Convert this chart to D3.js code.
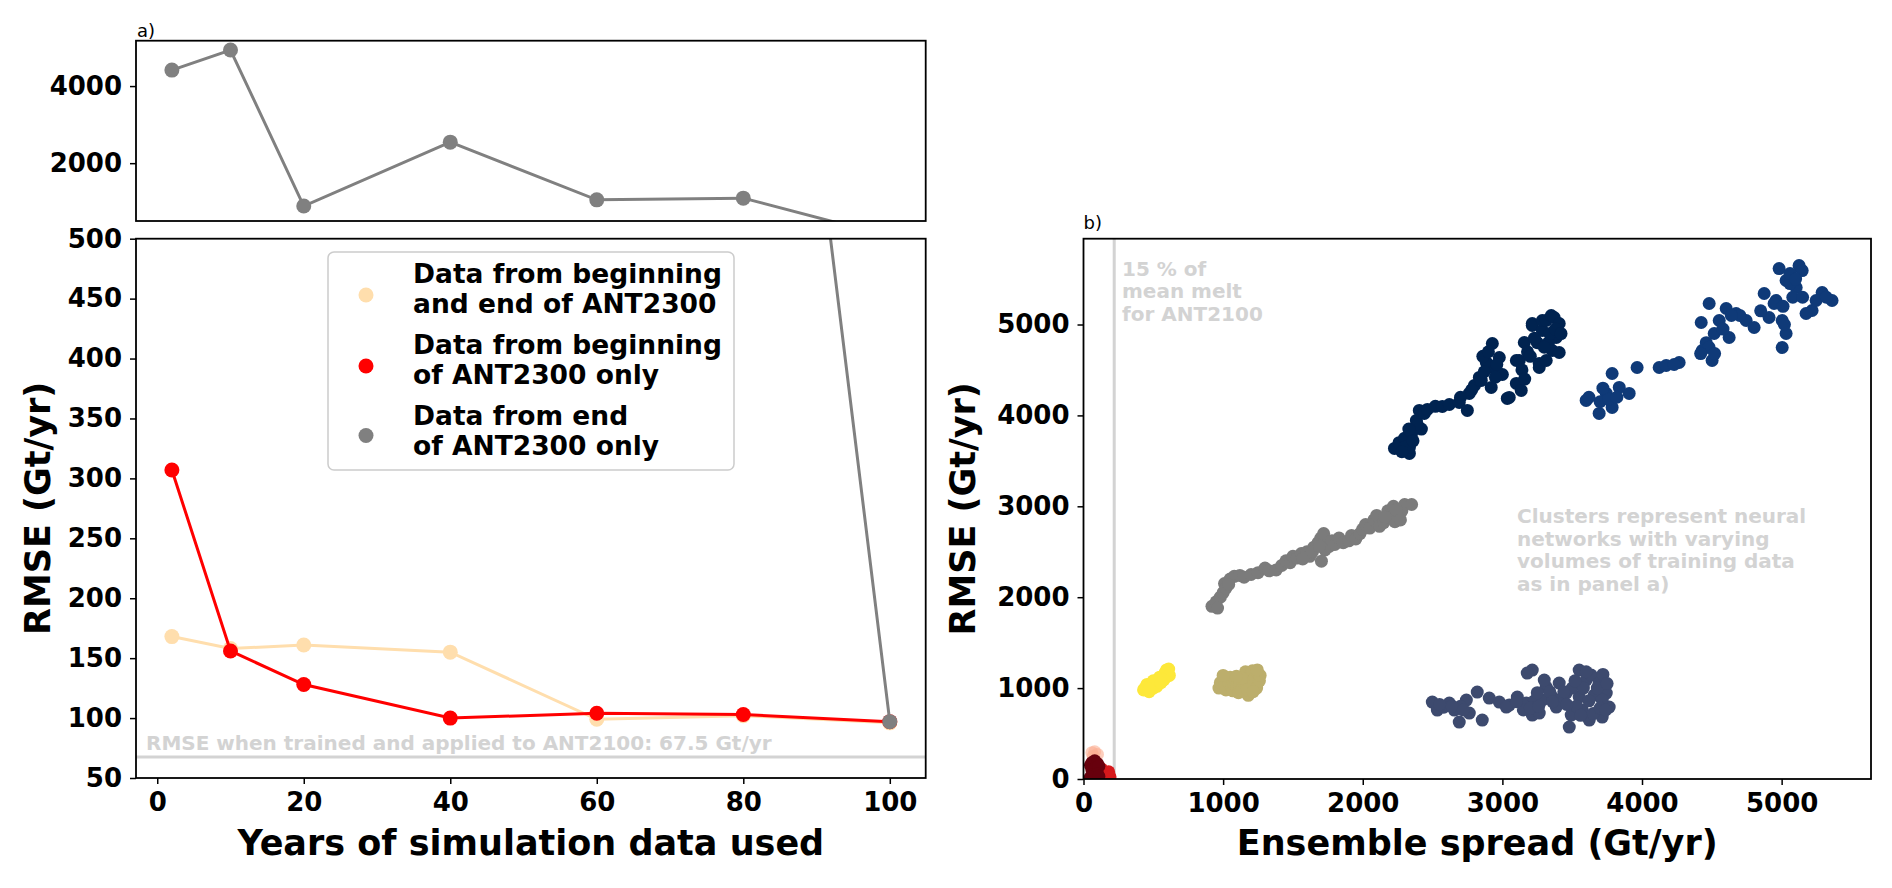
<!DOCTYPE html>
<html>
<head>
<meta charset="utf-8">
<script src="https://cdn.jsdelivr.net/npm/d3@7"></script>
<style>
  body { margin: 0; background: #fff; }
  text { font-family: "DejaVu Sans", sans-serif; }
  .axis text { font-size: 26px; font-weight: bold; fill: #000; font-family: "DejaVu Sans", sans-serif; }
  .axis line { stroke: #000; stroke-width: 1.5; }
</style>
</head>
<body>
<script>
// panel a) values
var years = [2, 10, 20, 40, 60, 80, 100];
var rmseBoth = [168, 158, 161, 155, 99, 102, 96];
var rmseBegin = [307, 156, 128, 100, 104, 103, 97];
var rmseEnd = [4415, 4935, 888, 2545, 1049, 1093, 97];
var seriesNames = [
  ['Data from beginning', 'and end of ANT2300'],
  ['Data from beginning', 'of ANT2300 only'],
  ['Data from end', 'of ANT2300 only']
];
var seriesColors = ['#FFDEAD', '#FF0000', '#808080'];
var yearTicks = [0, 20, 40, 60, 80, 100];
var topTicks = [2000, 4000];
var lowTicks = [50, 100, 150, 200, 250, 300, 350, 400, 450, 500];
var refRmse = 67.5;
var refLabel = 'RMSE when trained and applied to ANT2100: 67.5 Gt/yr';

// panel b) values: [ensemble spread, RMSE] per network
var spreadTicks = [0, 1000, 2000, 3000, 4000, 5000];
var rmseTicks = [0, 1000, 2000, 3000, 4000, 5000];
var meltLimit = 220;
var meltLabel = ['15 % of', 'mean melt', 'for ANT2100'];
var clusterLabel = ['Clusters represent neural', 'networks with varying', 'volumes of training data', 'as in panel a)'];

var cluster2 = [[2227,3637],[2260,3700],[2334,3582],[2300,3750],[2334,3648],[2384,3945],[2405,4055],[2441,4022],
  [2463,4066],[2350,3800],[2420,3850],[2520,4100],[2570,4099],[2620,4120],[2691,4143],[2749,4055],[2763,4242],
  [2800,4330],[2835,4418],[2849,4385],[2885,4582],[2892,4571],[2928,4791],[2978,4637],[2920,4308],[3035,4187],
  [3049,4198],[3100,4352],[3121,4604],[3100,4604],[3135,4275],[3157,4802],[3214,5011],[3214,4989],[3264,4571],
  [3264,4527],[3286,4934],[3286,5044],[3314,4604],[3314,5044],[3350,5099],[3357,4714],[3371,5077],[3386,4857],
  [3407,5011],[3407,4692],[2950,4500],[3000,4450],[3180,4700],[3250,4800],[3330,4800],[2870,4480],[2700,4200],
  [2300,3650],[2280,3600],[2360,3720],[2390,3900],[2330,3850],[2860,4650],[2900,4700],[2960,4560],[3140,4500],
  [3160,4400],[3200,4650],[3340,4900],[3380,4950],[3300,4750],[3230,4850],[3420,4900],[2950,4420],[2780,4280]];
var cluster10 = [[3600,4165],[3620,4200],[3693,4022],[3786,4461],[3837,4308],[3908,4242],[3786,4088],[3744,4242],
  [3700,4150],[3965,4527],[4123,4527],[4173,4549],[4266,4582],[4230,4560],[4424,5022],[4481,5231],[4431,4714],
  [4502,4604],[4517,4901],[4624,4857],[4603,5176],[4674,5121],[4746,5044],[4803,4967],[4875,5341],[4910,5077],
  [4960,5264],[4982,5615],[5032,5484],[5125,5648],[5147,5593],[5104,5407],[5004,5044],[5032,4901],[5004,4747],
  [5218,5154],[5290,5352],[5361,5264],[5175,5121],[5247,5264],[4946,5231],[4553,5044],[4460,4800],[4580,4950],
  [4700,5100],[4850,5150],[5060,5450],[5080,5300],[4480,4750],[5150,5300],[5320,5300],[4420,4680],[3760,4180],
  [3820,4200],[3720,4300],[4520,4680],[4640,5100],[5010,5200],[5060,5560],[5100,5500],[5020,5000]];
var cluster20 = [[2498,846],[2534,758],[2620,835],[2656,758],[2691,626],[2742,868],[2763,725],[2820,956],[2856,648],
  [2906,890],[2978,846],[3049,813],[3107,901],[3171,835],[3214,1198],[3178,1165],[3214,703],[3264,725],[3314,1011],
  [3300,1088],[3357,901],[3407,1055],[3457,945],[3493,703],[3479,571],[3550,1198],[3600,1088],[3636,1143],[3693,1055],
  [3744,945],[3765,791],[3715,681],[3622,648],[3572,758],[3550,901],[3658,923],[3715,868],[3386,791],[3286,868],
  [3028,791],[2700,800],[3230,860],[3250,950],[3340,960],[3420,880],[3500,1000],[3580,1000],[3680,1000],[3720,1150],
  [3750,1050],[3650,720],[3530,800],[2580,790],[3150,760],[3600,1180],[2640,800],[2720,760],[3200,780],[3260,800],
  [3360,850],[3440,960],[3520,1080],[3620,860],[3700,780],[3740,760],[3560,700],[3460,820],[2550,820],[3100,850]];
var cluster40 = [[920,1900],[950,1950],[980,2000],[960,1880],[1000,2050],[1010,2150],[1020,2100],[1050,2200],
  [1080,2230],[1120,2240],[1150,2220],[1200,2250],[1250,2270],[1300,2320],[1330,2290],[1380,2300],[1420,2350],
  [1450,2400],[1480,2380],[1500,2450],[1530,2430],[1560,2480],[1600,2500],[1620,2450],[1650,2550],[1680,2600],
  [1700,2650],[1720,2700],[1730,2520],[1760,2560],[1780,2620],[1800,2580],[1830,2650],[1860,2600],[1900,2620],
  [1920,2680],[1950,2640],[1980,2700],[2000,2750],[2020,2800],[2050,2760],[2080,2850],[2100,2900],[2120,2780],
  [2150,2820],[2180,2950],[2200,2880],[2220,3000],[2250,2900],[2280,2950],[2300,3020],[2350,3020],[2230,2830],
  [1704,2396],[1040,2140],[1570,2420],[1640,2500],[1690,2560],[2160,2880],[2240,2960],[2270,2850]];
var cluster60 = [[970,1000],[980,1060],[1000,1100],[1010,1030],[1020,980],[1040,1060],[1050,1120],[1060,1010],
  [1070,970],[1080,1040],[1090,1080],[1100,1000],[1110,950],[1120,1030],[1130,980],[1140,1070],[1150,1130],
  [1160,1180],[1170,1020],[1180,920],[1190,1100],[1200,1160],[1210,1190],[1220,1050],[1230,1120],[1240,1000],
  [1250,1160],[1260,1080],[1265,1140],[1175,980],[1000,1140],[1130,1110],[1215,960],[1245,1200],[1095,1130]];
var cluster80 = [[430,980],[450,1010],[470,960],[480,1020],[500,1000],[455,1040],[490,1050],[510,1030],[520,1070],
  [530,1050],[540,1090],[550,1080],[560,1110],[545,1120],[570,1130],[580,1150],[590,1120],[600,1180],[595,1200],
  [610,1210],[605,1160],[585,1170],[565,1100],[525,1020],[440,1000],[500,1080],[615,1140],[575,1090],[470,990],
  [555,1060]];
var clusterLight = [[60,290],[80,300],[100,270],[70,250]];
var clusterRed = [[120,60],[140,80],[150,40],[160,20],[130,110],[170,50],[180,80],[190,25]];
var clusterDark = [[50,150],[60,180],[80,200],[100,170],[60,100],[90,120],[110,140],[70,50],[100,60],[50,20],[110,30]];

var clusters = [clusterLight, clusterRed, clusterDark, cluster80, cluster60, cluster40, cluster20, cluster10, cluster2];
var clusterColors = ['#fcae91', '#d7191c', '#67000d', '#fde83a', '#bcae6c', '#7b7b7b', '#3d4a6e', '#0f3a78', '#002350'];
var clusterOpacity = [0.6, 1, 1, 1, 1, 1, 1, 1, 1];

var W = 1892, H = 888;
var left = {x0: 136, x1: 925.7, top0: 40.7, top1: 221, low0: 238.7, low1: 778};
var right = {x0: 1083.5, x1: 1871, y0: 238.7, y1: 779};

var svg = d3.select('body').append('svg')
    .attr('width', W)
    .attr('height', H);

var defs = svg.append('defs');
function addClip(id, x0, y0, x1, y1) {
  defs.append('clipPath').attr('id', id)
    .append('rect')
      .attr('x', x0).attr('y', y0)
      .attr('width', x1 - x0).attr('height', y1 - y0);
}
addClip('clipTop', left.x0, left.top0, left.x1, left.top1);
addClip('clipLow', left.x0, left.low0, left.x1, left.low1);
addClip('clipRight', right.x0, right.y0, right.x1, right.y1);

var x = d3.scaleLinear().domain([-2.9, 104.9]).range([left.x0, left.x1]);
var yTop = d3.scaleLinear().domain([500, 5177]).range([left.top1, left.top0]);
var yLow = d3.scaleLinear().domain([50, 500]).range([left.low1, left.low0]);
var xR = d3.scaleLinear().domain([0, 5640]).range([right.x0, right.x1]);
var yR = d3.scaleLinear().domain([0, 5944]).range([right.y1, right.y0]);

var seriesValues = [rmseBoth, rmseBegin, rmseEnd];

function drawSeries(yScale, clipId) {
  var g = svg.append('g').attr('clip-path', 'url(#' + clipId + ')');
  seriesValues.forEach(function(vals, s) {
    var pts = years.map(function(yr, i) { return [yr, vals[i]]; });
    var line = d3.line()
        .x(function(d) { return x(d[0]); })
        .y(function(d) { return yScale(d[1]); });
    g.append('path')
        .attr('d', line(pts))
        .attr('fill', 'none')
        .attr('stroke', seriesColors[s])
        .attr('stroke-width', 3);
    g.selectAll(null)
        .data(pts)
      .enter().append('circle')
        .attr('cx', function(d) { return x(d[0]); })
        .attr('cy', function(d) { return yScale(d[1]); })
        .attr('r', 7.5)
        .attr('fill', seriesColors[s]);
  });
}

function frame(x0, y0, x1, y1) {
  svg.append('rect')
      .attr('x', x0).attr('y', y0)
      .attr('width', x1 - x0).attr('height', y1 - y0)
      .attr('fill', 'none')
      .attr('stroke', '#000')
      .attr('stroke-width', 1.8);
}

function axis(gen, tx, ty) {
  var g = svg.append('g')
      .attr('class', 'axis')
      .attr('transform', 'translate(' + tx + ',' + ty + ')')
      .call(gen);
  g.select('.domain').remove();
  return g;
}

// ---- panel a)
svg.append('line')
    .attr('x1', left.x0).attr('x2', left.x1)
    .attr('y1', yLow(refRmse)).attr('y2', yLow(refRmse))
    .attr('stroke', '#d3d3d3')
    .attr('stroke-width', 3);

svg.append('text')
    .attr('x', left.x0 + 10)
    .attr('y', 750)
    .style('font-size', '20px')
    .style('font-weight', 'bold')
    .attr('fill', '#d3d3d3')
    .text(refLabel);

drawSeries(yTop, 'clipTop');
drawSeries(yLow, 'clipLow');

frame(left.x0, left.top0, left.x1, left.top1);
frame(left.x0, left.low0, left.x1, left.low1);

axis(d3.axisLeft(yTop).tickValues(topTicks).tickSize(6).tickPadding(8).tickFormat(d3.format('d')), left.x0, 0);
axis(d3.axisLeft(yLow).tickValues(lowTicks).tickSize(6).tickPadding(8).tickFormat(d3.format('d')), left.x0, 0);
axis(d3.axisBottom(x).tickValues(yearTicks).tickSize(6).tickPadding(9).tickFormat(d3.format('d')), 0, left.low1);

svg.append('text')
    .attr('x', left.x0 + 1)
    .attr('y', 37)
    .style('font-size', '18px')
    .text('a)');

svg.append('text')
    .attr('x', (left.x0 + left.x1) / 2)
    .attr('y', 855)
    .attr('text-anchor', 'middle')
    .style('font-size', '35px')
    .style('font-weight', 'bold')
    .text('Years of simulation data used');

svg.append('text')
    .attr('transform', 'translate(50,' + ((left.low0 + left.low1) / 2) + ') rotate(-90)')
    .attr('text-anchor', 'middle')
    .style('font-size', '35px')
    .style('font-weight', 'bold')
    .text('RMSE (Gt/yr)');

// legend
var legend = svg.append('g');
legend.append('rect')
    .attr('x', 328).attr('y', 252)
    .attr('width', 406).attr('height', 218)
    .attr('rx', 6)
    .attr('fill', '#fff')
    .attr('fill-opacity', 0.8)
    .attr('stroke', '#cccccc')
    .attr('stroke-width', 1.5);
var legendMarkY = [295, 366, 435.5];
var legendTextY = [283, 354, 425];
seriesNames.forEach(function(lines, s) {
  legend.append('circle')
      .attr('cx', 366).attr('cy', legendMarkY[s])
      .attr('r', 7.5)
      .attr('fill', seriesColors[s]);
  var t = legend.append('text')
      .attr('x', 413).attr('y', legendTextY[s])
      .style('font-size', '26.5px')
      .style('font-weight', 'bold');
  lines.forEach(function(l, k) {
    t.append('tspan').attr('x', 413).attr('dy', k === 0 ? 0 : 30).text(l);
  });
});

// ---- panel b)
var gR = svg.append('g').attr('clip-path', 'url(#clipRight)');
gR.append('line')
    .attr('x1', xR(meltLimit)).attr('x2', xR(meltLimit))
    .attr('y1', right.y0).attr('y2', right.y1)
    .attr('stroke', '#d3d3d3')
    .attr('stroke-width', 3);

clusters.forEach(function(pts, c) {
  gR.selectAll(null)
      .data(pts)
    .enter().append('circle')
      .attr('cx', function(d) { return xR(d[0]); })
      .attr('cy', function(d) { return yR(d[1]); })
      .attr('r', 6.5)
      .attr('fill', clusterColors[c])
      .attr('fill-opacity', clusterOpacity[c]);
});

function grayBlock(lines, x0, y0, step) {
  var t = svg.append('text')
      .attr('x', x0).attr('y', y0)
      .style('font-size', '20px')
      .style('font-weight', 'bold')
      .attr('fill', '#d3d3d3');
  lines.forEach(function(l, k) {
    t.append('tspan').attr('x', x0).attr('dy', k === 0 ? 0 : step).text(l);
  });
}
grayBlock(meltLabel, 1122, 275.5, 22.5);
grayBlock(clusterLabel, 1517, 523, 22.5);

frame(right.x0, right.y0, right.x1, right.y1);
axis(d3.axisLeft(yR).tickValues(rmseTicks).tickSize(6).tickPadding(8).tickFormat(d3.format('d')), right.x0, 0);
axis(d3.axisBottom(xR).tickValues(spreadTicks).tickSize(6).tickPadding(9).tickFormat(d3.format('d')), 0, right.y1);

svg.append('text')
    .attr('x', right.x0)
    .attr('y', 229)
    .style('font-size', '18px')
    .text('b)');

svg.append('text')
    .attr('x', (right.x0 + right.x1) / 2)
    .attr('y', 855)
    .attr('text-anchor', 'middle')
    .style('font-size', '35px')
    .style('font-weight', 'bold')
    .text('Ensemble spread (Gt/yr)');

svg.append('text')
    .attr('transform', 'translate(975,' + ((right.y0 + right.y1) / 2) + ') rotate(-90)')
    .attr('text-anchor', 'middle')
    .style('font-size', '35px')
    .style('font-weight', 'bold')
    .text('RMSE (Gt/yr)');
</script>
</body>
</html>
